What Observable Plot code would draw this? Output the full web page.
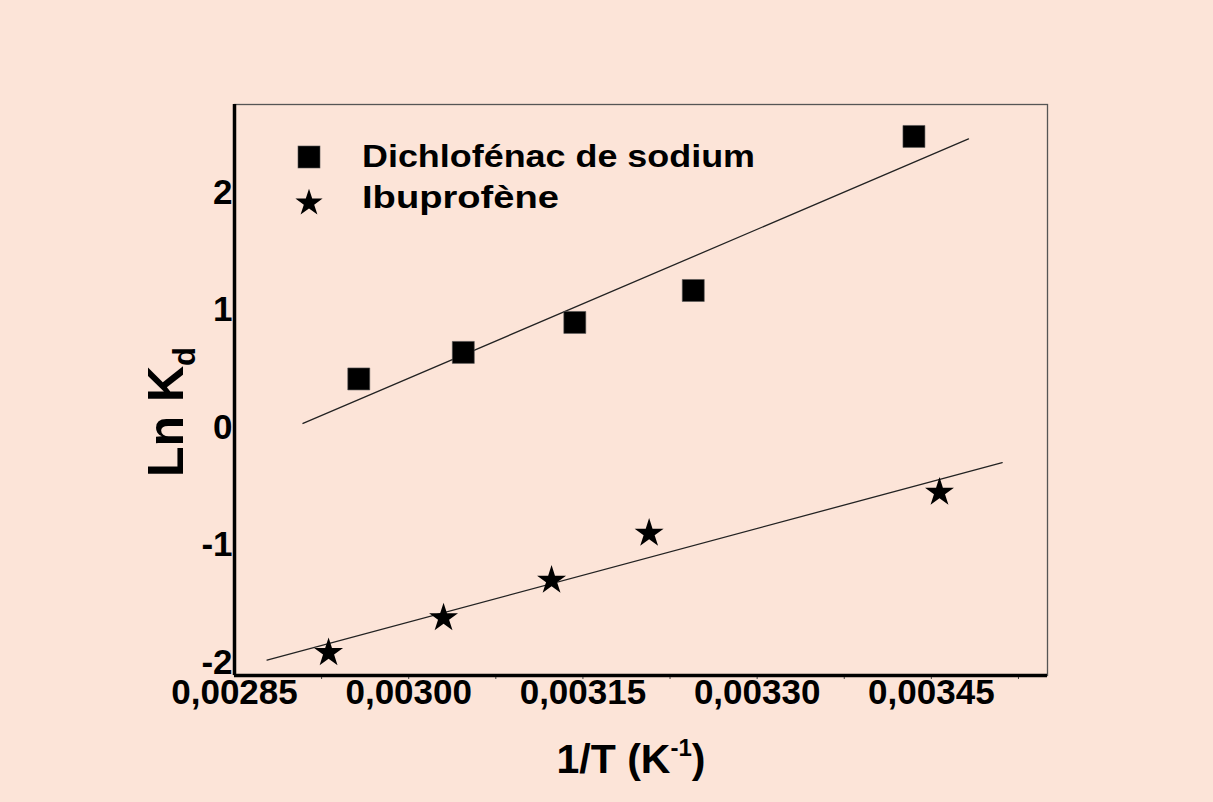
<!DOCTYPE html>
<html>
<head>
<meta charset="utf-8">
<script src="https://cdn.jsdelivr.net/npm/d3@7"></script>
<script src="https://cdn.jsdelivr.net/npm/@observablehq/plot@0.6"></script>
<style>
  html, body { margin: 0; padding: 0; background: #FCE4D8; }
  #chart { width: 1213px; height: 802px; }
  svg { font-family: "Liberation Sans", Arial, sans-serif; font-weight: bold; }
</style>
</head>
<body>
<div id="chart"></div>
<script>
// Ln Kd versus 1/T for the two drugs
const diclofenacX = [0.002957, 0.003047, 0.003143, 0.003245, 0.003435];
const diclofenacLnKd = [0.414, 0.640, 0.895, 1.167, 2.478];
const ibuprofenX = [0.002931, 0.003030, 0.003123, 0.003207, 0.003457];
const ibuprofenLnKd = [-1.917, -1.620, -1.300, -0.900, -0.551];

// x extent over which each fitted line is drawn
const fitRangeDiclofenac = [0.002909, 0.003482];
const fitRangeIbuprofen = [0.002878, 0.003511];

const seriesNames = ["Dichlofénac de sodium", "Ibuprofène"];
const xTicks = [0.00285, 0.00300, 0.00315, 0.00330, 0.00345];
const xMinorTicks = [0.002925, 0.003000, 0.003075, 0.003150, 0.003225, 0.003300, 0.003375, 0.003450, 0.003525];
const yTicks = [-2, -1, 0, 1, 2];
const xDomain = [0.00285, 0.00355];
const yDomain = [-2.11, 2.75];

const bg = "#FCE4D8";
const ink = "#000";

const toPoints = (xs, ys) => xs.map((x, i) => ({x, y: ys[i]}));
const dic = toPoints(diclofenacX, diclofenacLnKd);
const ibu = toPoints(ibuprofenX, ibuprofenLnKd);

// ordinary least-squares line evaluated at both ends of a range
function fitLine(points, range) {
  const mx = d3.mean(points, d => d.x), my = d3.mean(points, d => d.y);
  const sxy = d3.sum(points, d => (d.x - mx) * (d.y - my));
  const sxx = d3.sum(points, d => (d.x - mx) ** 2);
  const slope = sxy / sxx, icpt = my - slope * mx;
  return range.map(x => ({x, y: icpt + slope * x}));
}
const dicFit = fitLine(dic, fitRangeDiclofenac);
const ibuFit = fitLine(ibu, fitRangeIbuprofen);

const fmtX = d => d.toFixed(5).replace(".", ",");

const chart = Plot.plot({
  width: 1213,
  height: 802,
  marginLeft: 234,
  marginRight: 166,
  marginTop: 104,
  marginBottom: 127,
  style: {background: bg, fontFamily: "'Liberation Sans', Arial, sans-serif", fontWeight: "bold", color: ink},
  x: {domain: xDomain},
  y: {domain: yDomain},
  marks: [
    Plot.frame({stroke: "#555", strokeWidth: 1.3}),
    Plot.axisX({ticks: xMinorTicks, tickSize: 4, tickFormat: () => "", stroke: "#444", strokeWidth: 1, label: null}),
    Plot.axisX({ticks: xTicks, tickSize: 0, tickPadding: 4, tickFormat: fmtX, fontSize: 35, fontWeight: "bold", label: null}),
    Plot.axisY({ticks: yTicks, tickSize: 0, tickPadding: 2, tickFormat: d => String(d), fontSize: 35, fontWeight: "bold", label: null}),
    Plot.ruleX([xDomain[0]], {stroke: ink, strokeWidth: 3.5}),
    Plot.ruleY([yDomain[0]], {stroke: ink, strokeWidth: 3.5}),
    Plot.line(dicFit, {x: "x", y: "y", stroke: "#222", strokeWidth: 1.3}),
    Plot.line(ibuFit, {x: "x", y: "y", stroke: "#222", strokeWidth: 1.3}),
    Plot.dot(dic, {x: "x", y: "y", symbol: "square", r: 12.4, fill: ink, stroke: "#555", strokeWidth: 0.6}),
    Plot.dot(ibu, {x: "x", y: "y", symbol: "star", r: 9.1, fill: ink, stroke: "none"})
  ]
});

document.getElementById("chart").appendChild(chart);

const svg = d3.select(chart);

// legend (wide bold lettering)
const legend = svg.append("g").attr("text-anchor", "start");
legend.append("rect")
  .attr("x", 298).attr("y", 146).attr("width", 22).attr("height", 22)
  .attr("fill", ink).attr("stroke", "#555").attr("stroke-width", 0.6);
legend.append("path")
  .attr("transform", "translate(309,203)")
  .attr("d", d3.symbol(d3.symbolStar, 230)())
  .attr("fill", ink);
const legendWidths = [393, 197];
seriesNames.forEach((name, i) => {
  legend.append("text")
    .attr("x", 362).attr("y", 167 + 41 * i)
    .attr("text-anchor", "start")
    .attr("font-size", 31).attr("font-weight", "bold").attr("fill", ink)
    .attr("textLength", legendWidths[i])
    .attr("lengthAdjust", "spacingAndGlyphs")
    .text(name);
});

// axis titles with sub/superscripts
const xTitle = svg.append("text")
  .attr("x", 631).attr("y", 773)
  .attr("text-anchor", "middle")
  .attr("font-size", 41).attr("font-weight", "bold").attr("fill", ink);
xTitle.append("tspan").text("1/T (K");
xTitle.append("tspan").attr("font-size", 24).attr("dy", -17).text("-1");
xTitle.append("tspan").attr("dy", 17).text(")");

const yTitle = svg.append("text")
  .attr("transform", "translate(183,412) rotate(-90)")
  .attr("text-anchor", "middle")
  .attr("font-size", 50).attr("font-weight", "bold").attr("fill", ink);
yTitle.append("tspan").text("Ln K");
yTitle.append("tspan").attr("font-size", 31).attr("dy", 12).text("d");
</script>
</body>
</html>
